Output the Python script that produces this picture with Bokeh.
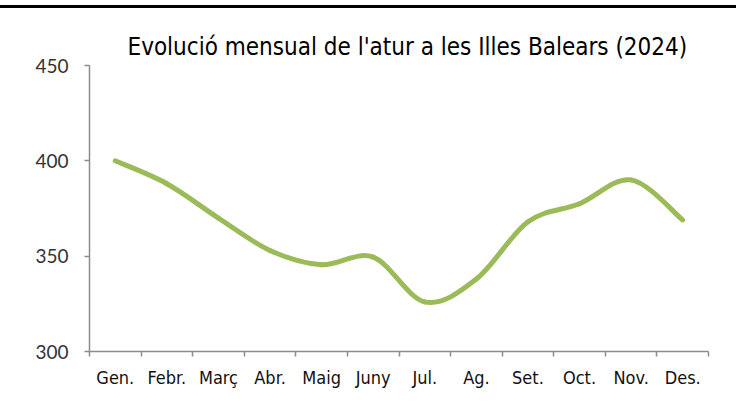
import numpy as np
from bokeh.plotting import figure
from bokeh.models import FixedTicker, Range1d
from bokeh.embed import file_html
from bokeh.resources import INLINE

months = ["Gen.", "Febr.", "Març", "Abr.", "Maig", "Juny", "Jul.", "Ag.", "Set.", "Oct.", "Nov.", "Des."]
atur = [400, 388, 370, 353, 345.5, 349.5, 326, 338, 368, 377.5, 390, 369]
y_ticks = [300, 350, 400, 450]
title_text = "Evolució mensual de l'atur a les Illes Balears (2024)"

COND = "DejaVu Sans Condensed"

p = figure(width=736, height=397, output_backend="svg", toolbar_location=None,
           x_range=Range1d(0.5, len(months) + 0.5), y_range=Range1d(300, 450),
           min_border_left=89, min_border_right=28, min_border_top=57, min_border_bottom=54,
           title=title_text)
p.styles = {"border-top": "3px solid black"}
p.margin = (5, 0, 0, 0)
p.outline_line_color = None
p.xgrid.visible = False
p.ygrid.visible = False

# smoothed line (Excel-style bezier through the data points)
x = np.arange(1, len(atur) + 1, dtype=float)
y = np.array(atur, dtype=float)
n = len(y)
prev_i = np.clip(np.arange(n - 1) - 1, 0, n - 1)
next_i = np.clip(np.arange(n - 1) + 2, 0, n - 1)
i0 = np.arange(n - 1)
i1 = i0 + 1
cx0 = x[i0] + (x[i1] - x[prev_i]) / 6
cy0 = y[i0] + (y[i1] - y[prev_i]) / 6
cx1 = x[i1] - (x[next_i] - x[i0]) / 6
cy1 = y[i1] - (y[next_i] - y[i0]) / 6
p.bezier(x0=x[i0], y0=y[i0], x1=x[i1], y1=y[i1], cx0=cx0, cy0=cy0, cx1=cx1, cy1=cy1,
         line_color="#9BBB59", line_width=5, line_cap="round")

p.title.align = "left"
p.title.offset = 38
p.title.text_font = COND
p.title.text_font_size = "24px"
p.title.text_font_style = "normal"
p.title.text_color = "#000000"

# y axis
p.yaxis.ticker = FixedTicker(ticks=y_ticks)
p.yaxis.axis_line_color = "#8c8c8c"
p.yaxis.axis_line_width = 1.5
p.yaxis.major_tick_line_color = "#8c8c8c"
p.yaxis.major_tick_line_width = 1.5
p.yaxis.major_tick_out = 5
p.yaxis.major_tick_in = 0
p.yaxis.minor_tick_line_color = None
p.yaxis.major_label_text_font = "Lato"
p.yaxis.major_label_text_font_size = "19px"
p.yaxis.major_label_text_color = "#333333"
p.yaxis.major_label_standoff = 16

# x axis: labels at category centres, ticks at category boundaries
p.xaxis.ticker = FixedTicker(ticks=list(x), minor_ticks=list(np.arange(0.5, n + 1, 1.0)))
p.xaxis.major_label_overrides = {float(v): m for v, m in zip(x, months)}
p.xaxis.major_label_overrides.update({int(v): m for v, m in zip(x, months)})
p.xaxis.axis_line_color = "#8c8c8c"
p.xaxis.axis_line_width = 1.5
p.xaxis.major_tick_line_color = None
p.xaxis.minor_tick_line_color = "#8c8c8c"
p.xaxis.minor_tick_line_width = 1.5
p.xaxis.minor_tick_out = 5
p.xaxis.minor_tick_in = 0
p.xaxis.major_label_text_font = COND
p.xaxis.major_label_text_font_size = "18px"
p.xaxis.major_label_text_color = "#111111"
p.xaxis.major_label_standoff = 9

open("out.html", "w").write(file_html(p, INLINE))
